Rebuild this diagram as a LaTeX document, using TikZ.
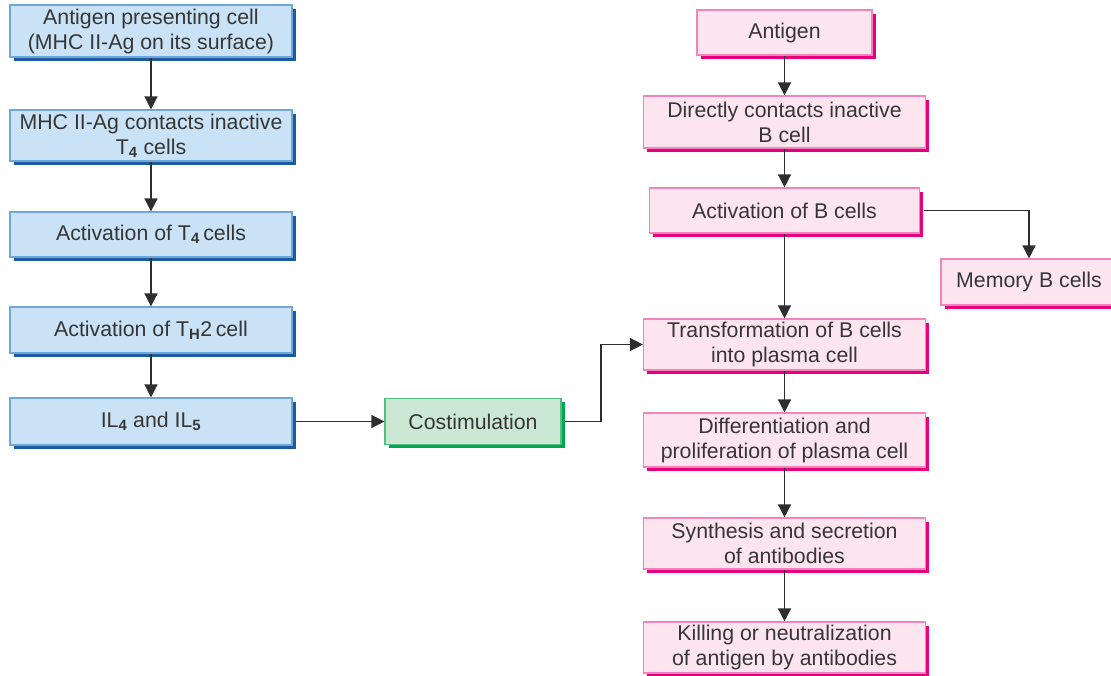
\documentclass[tikz,border=0pt]{standalone}
\usepackage{fontspec}
\setmainfont{Liberation Sans}
\usetikzlibrary{shadows,arrows.meta}

\definecolor{txt}{HTML}{363636}
\definecolor{blueF}{HTML}{C9E2F5}
\definecolor{blueB}{HTML}{6FA6DC}
\definecolor{blueS}{HTML}{1C5C9E}
\definecolor{pinkF}{HTML}{FDE5F0}
\definecolor{pinkB}{HTML}{F283BD}
\definecolor{pinkS}{HTML}{E6007E}
\definecolor{greenF}{HTML}{CAE8D4}
\definecolor{greenB}{HTML}{55BE80}
\definecolor{greenS}{HTML}{00A651}
\definecolor{lineC}{HTML}{2E2E2E}

\newcommand{\sub}[1]{\textsubscript{\textbf{#1}}}

\tikzset{
  flowbox/.style={rectangle, draw, line width=1.2pt, text=txt, align=center,
    inner sep=0pt, font=\fontsize{21.3}{25}\selectfont},
  bluebox/.style={flowbox, fill=blueF, draw=blueB,
    general shadow={shadow xshift=3.5pt, shadow yshift=-3.5pt, fill=blueS}},
  pinkbox/.style={flowbox, fill=pinkF, draw=pinkB,
    general shadow={shadow xshift=3.5pt, shadow yshift=-3.5pt, fill=pinkS}},
  greenbox/.style={flowbox, fill=greenF, draw=greenB,
    general shadow={shadow xshift=3.5pt, shadow yshift=-3.5pt, fill=greenS}},
  arr/.style={draw=lineC, line width=1.6pt,
    -{Triangle[length=13pt,width=13pt]}}
}

\begin{document}
\begin{tikzpicture}[x=1pt, y=-1pt]
\useasboundingbox (0,0) rectangle (1111,675);

% T-cell pathway
\node[bluebox, minimum width=282pt, minimum height=52pt] (apc) at (151,31)
  {Antigen presenting cell\\(MHC II-Ag on its surface)};
\node[bluebox, minimum width=282pt, minimum height=51pt] (mhc) at (151,135.5)
  {MHC II-Ag contacts inactive\\T\sub{4} cells};
\node[bluebox, minimum width=282pt, minimum height=45pt] (act4) at (151,234.5)
  {Activation of T\sub{4}\,cells};
\node[bluebox, minimum width=282pt, minimum height=46pt] (acth) at (151,330)
  {Activation of T\sub{H}2\,cell};
\node[bluebox, minimum width=282pt, minimum height=47pt] (il) at (151,421.5)
  {IL\sub{4} and IL\sub{5}};

% costimulation
\node[greenbox, minimum width=176pt, minimum height=46pt] (cos) at (473,421.5)
  {Costimulation};

% B-cell pathway
\node[pinkbox, minimum width=175pt, minimum height=45pt] (ag) at (784.5,32.5)
  {Antigen};
\node[pinkbox, minimum width=282pt, minimum height=52pt] (dir) at (784.5,122)
  {Directly contacts inactive\\B cell};
\node[pinkbox, minimum width=270pt, minimum height=45pt] (actb) at (784.5,210.5)
  {Activation of B cells};
\node[pinkbox, minimum width=176pt, minimum height=46pt] (mem) at (1029,282)
  {Memory B cells};
\node[pinkbox, minimum width=282pt, minimum height=51pt] (tr) at (784.5,344.5)
  {Transformation of B cells\\into plasma cell};
\node[pinkbox, minimum width=282pt, minimum height=54pt] (dif) at (784.5,440)
  {Differentiation and\\proliferation of plasma cell};
\node[pinkbox, minimum width=282pt, minimum height=51pt] (syn) at (784.5,543.5)
  {Synthesis and secretion\\of antibodies};
\node[pinkbox, minimum width=282pt, minimum height=51pt] (kil) at (784.5,647.5)
  {Killing or neutralization\\of antigen by antibodies};

% connectors
\draw[arr] (apc) -- (mhc);
\draw[arr] (mhc) -- (act4);
\draw[arr] (act4) -- (acth);
\draw[arr] (acth) -- (il);
\draw[arr] ([xshift=3.5pt]il.east) -- (cos.west);
\draw[arr] ([xshift=3.5pt]cos.east) -- ++(36,0) |- (tr.west);

\draw[arr] (ag) -- (dir);
\draw[arr] (dir) -- (actb);
\draw[arr] (actb) -- (tr);
\draw[arr] ([xshift=3.5pt]actb.east) -| (mem.north);
\draw[arr] (tr) -- (dif);
\draw[arr] (dif) -- (syn);
\draw[arr] (syn) -- (kil);
\end{tikzpicture}
\end{document}
